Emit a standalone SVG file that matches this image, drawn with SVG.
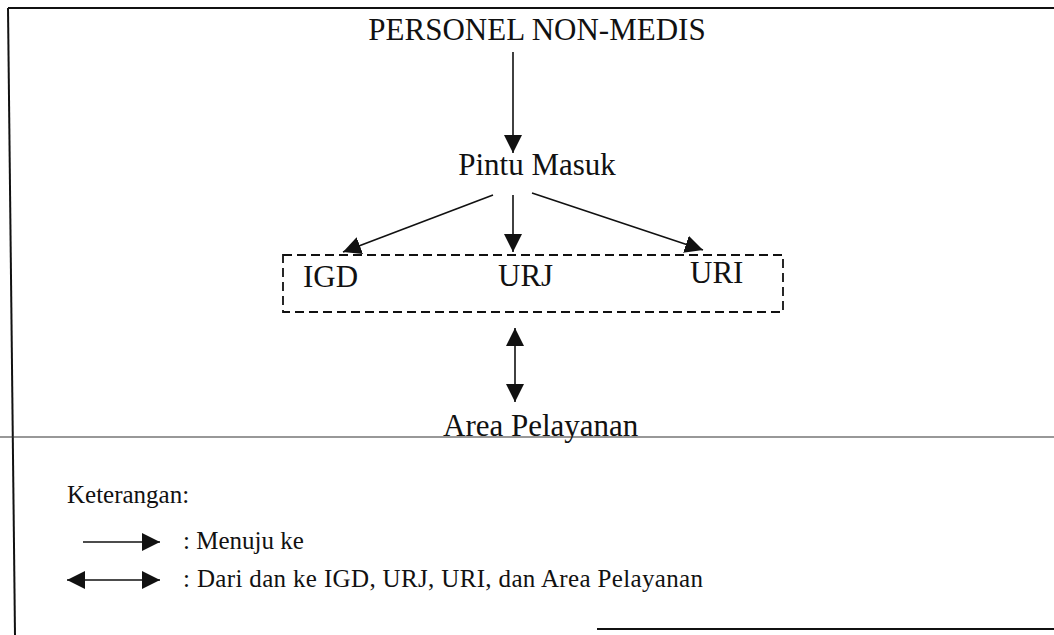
<svg xmlns="http://www.w3.org/2000/svg" width="1054" height="635" viewBox="0 0 1054 635">
  <style>
    .t { font-family: "Liberation Serif", "Times New Roman", serif; fill: #111; }
    .big { font-size: 31px; }
    .small { font-size: 25px; }
    .ln { stroke: #111; stroke-width: 1.6; fill: none; }
    .frame { stroke: #111; stroke-width: 2; fill: none; }
    .dash { stroke: #111; stroke-width: 1.8; fill: none; stroke-dasharray: 9 5; }
  </style>
  <defs>
    <!-- filled triangular arrowhead, reused at either end of a connector -->
    <marker id="head" viewBox="0 0 10 10" refX="10" refY="5" markerWidth="18" markerHeight="18" markerUnits="userSpaceOnUse" orient="auto-start-reverse">
      <path d="M0,0 L10,5 L0,10 Z" fill="#111"/>
    </marker>
  </defs>
  <rect width="1054" height="635" fill="#fff"/>

  <!-- page frame and the rule under the service area -->
  <g id="frame">
    <path class="frame" d="M8,8 L1054,8"/>
    <path class="frame" d="M8,8 L15,635"/>
    <path class="frame" d="M597,629 L1054,629"/>
    <path d="M0,437 L1054,437" stroke="#333" stroke-width="1.2"/>
  </g>

  <g id="node-personel">
    <text class="t big" x="537" y="40" text-anchor="middle">PERSONEL NON-MEDIS</text>
  </g>
  <g id="node-pintu">
    <text class="t big" x="537" y="175" text-anchor="middle">Pintu Masuk</text>
  </g>
  <g id="node-units">
    <rect class="dash" x="283" y="255" width="500" height="57"/>
    <text class="t big" x="303" y="287">IGD</text>
    <text class="t big" x="498" y="286">URJ</text>
    <text class="t big" x="690" y="283">URI</text>
  </g>
  <g id="node-area">
    <text class="t big" x="443" y="436">Area Pelayanan</text>
  </g>

  <g id="connectors">
    <path class="ln" d="M513,52 L513,153" marker-end="url(#head)"/>
    <path class="ln" d="M493,195 L343,252" marker-end="url(#head)"/>
    <path class="ln" d="M513,195 L513,252" marker-end="url(#head)"/>
    <path class="ln" d="M532,193 L703,250" marker-end="url(#head)"/>
    <path class="ln" d="M515,328 L515,402" marker-start="url(#head)" marker-end="url(#head)"/>
  </g>

  <g id="legend">
    <text class="t small" x="67" y="503">Keterangan:</text>
    <path class="ln" d="M83,542 L160,542" marker-end="url(#head)"/>
    <text class="t small" x="183" y="549">: Menuju ke</text>
    <path class="ln" d="M67,580 L160,580" marker-start="url(#head)" marker-end="url(#head)"/>
    <text class="t small" x="183" y="587" textLength="520">: Dari dan ke IGD, URJ, URI, dan Area Pelayanan</text>
  </g>
</svg>
